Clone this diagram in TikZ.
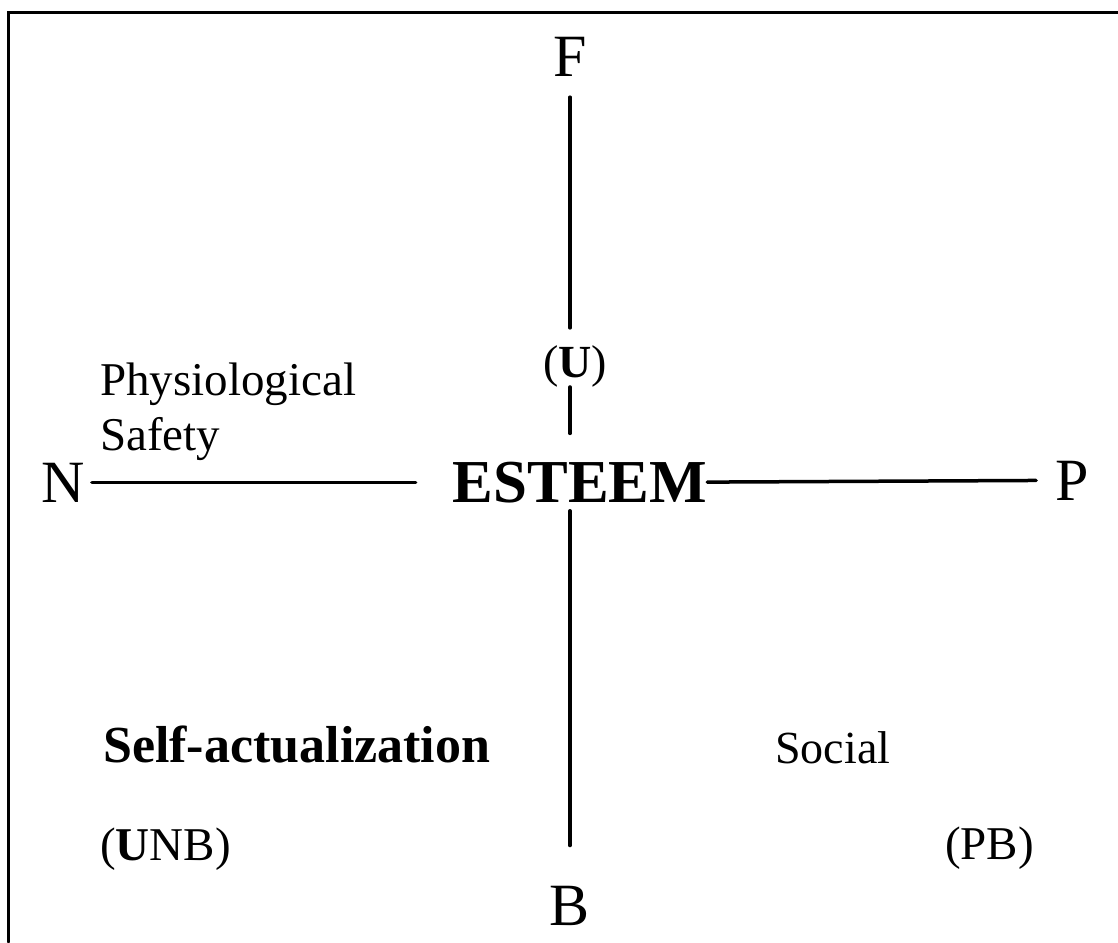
\documentclass[tikz,border=0pt]{standalone}
\usepackage{fontspec}
\setmainfont{Liberation Serif}

\begin{document}
\begin{tikzpicture}[x=1pt,y=-1pt,line cap=round]

            \tikzstyle{every node}=[inner sep=0pt]
            \tikzstyle{pole}=[anchor=base,font=\fontsize{60}{60}\selectfont]
            \tikzstyle{need}=[anchor=base west,font=\fontsize{47}{55}\selectfont]
            \tikzstyle{axis}=[line width=3.5pt]

            \useasboundingbox (0,0) rectangle (1118,942);
            \draw[line width=3pt] (8,942) -- (8,13) -- (1118,13);

            \node[pole]  (F) at (570,77)  {F};
            \node[pole]  (N) at (63,502)  {N};
            \node[pole]  (P) at (1072,500) {P};
            \node[pole]  (B) at (570,925) {B};
            \node[pole,font=\fontsize{61}{61}\selectfont\bfseries] (E) at (580,502) {ESTEEM};
            \node[anchor=base,font=\fontsize{46}{46}\selectfont] (U) at (575,377) {(\textbf{U})};

            \node[need] (phys) at (100,395) {Physiological};
            \node[need] (safe) at (100,450) {Safety};
            \node[need,font=\fontsize{52}{52}\selectfont\bfseries] (self) at (103,762) {Self-actualization};
            \node[need] (unb)  at (100,860) {(\textbf{U}NB)};
            \node[need,font=\fontsize{46}{46}\selectfont] (soc) at (775,763) {Social};
            \node[need] (pb)   at (945,859) {(PB)};

            \draw[axis,shorten <=20pt,shorten >=17pt] (F) -- (U.north -| F);
            \draw[axis,shorten >=28pt] (U.south -| F) -- (E.north -| F);
            \draw[axis,shorten <=8pt,shorten >=40pt] (E.south -| B) -- (B.north);
            \draw[axis,shorten <=7pt,shorten >=37pt] (N.east) -- (N -| E.west);
            \draw[axis,shorten >=19pt] (E.east) -- (P.west);
        \end{tikzpicture}
\end{document}
